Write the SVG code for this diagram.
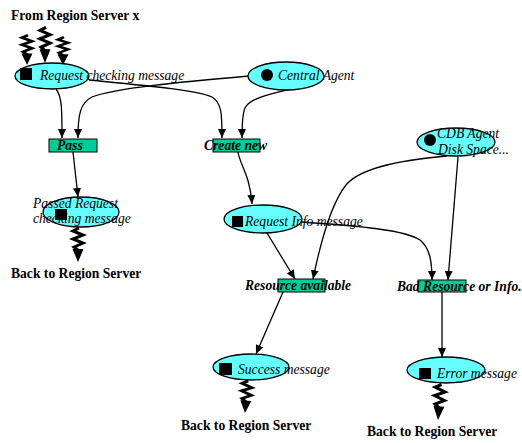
<svg xmlns="http://www.w3.org/2000/svg" xmlns:xlink="http://www.w3.org/1999/xlink" width="522" height="443" viewBox="0 0 522 443">
  <style>
    .msg { fill: #66ffff; stroke: #000; stroke-width: 1.3; }
    .box { fill: #00cc99; stroke: #000; stroke-width: 1; }
    .lbl { font-family: "Liberation Serif", "Times New Roman", serif; font-size: 13.6px; font-style: italic; fill: #000; }
    .blbl { font-family: "Liberation Serif", "Times New Roman", serif; font-size: 13.6px; font-style: italic; font-weight: bold; fill: #000; }
    .head { font-family: "Liberation Serif", "Times New Roman", serif; font-size: 13.6px; font-weight: bold; fill: #000; }
    .edge { fill: none; stroke: #000; stroke-width: 1.3; marker-end: url(#arrow); }
    .zz { fill: none; stroke: #000; stroke-width: 3; stroke-linejoin: miter; }
  </style>
  <defs>
    <marker id="arrow" markerUnits="userSpaceOnUse" markerWidth="9" markerHeight="8" refX="9" refY="4" orient="auto">
      <path d="M0,0 L9,4 L0,8 z" fill="#000"/>
    </marker>
    <!-- squiggly message arrow, tip at the origin, pointing down -->
    <g id="zigzag">
      <path class="zz" d="M1,-34 L-5,-31 L5,-27 L-5,-23 L5,-19 L-4,-15 L1,-11"/>
      <path d="M-5.5,-13 L5.5,-13 L0,0 z" fill="#000"/>
    </g>
  </defs>

  <text class="head" x="11" y="20">From Region Server x</text>

  <!-- incoming messages -->
  <g id="incoming">
    <use xlink:href="#zigzag" transform="translate(27,65) scale(1,0.88)"/>
    <use xlink:href="#zigzag" transform="translate(45,63) scale(1,1.05)"/>
    <use xlink:href="#zigzag" transform="translate(63,65) scale(1,0.82)"/>
  </g>

  <g id="connectors">
    <path class="edge" d="M56,89 C62,96 62,110 62,138"/>
    <path class="edge" d="M249,76 C180,82 115,88 92,97 C80,103 78,115 78,138"/>
    <path class="edge" d="M89,80 C150,86 195,90 212,97 C222,103 222,115 222,138"/>
    <path class="edge" d="M291,89 C270,94 250,98 245,108 C242,115 242,125 242,138"/>
    <path class="edge" d="M73,152 L78,197"/>
    <path class="edge" d="M238,152 C240,165 250,175 252,204"/>
    <path class="edge" d="M267,233 L295,279"/>
    <path class="edge" d="M447,156 C400,160 360,168 346,185 C330,205 320,245 313,279"/>
    <path class="edge" d="M302,222 C360,226 405,230 420,240 C430,248 432,262 432,280"/>
    <path class="edge" d="M458,157 L448,280"/>
    <path class="edge" d="M283,292 L256,354"/>
    <path class="edge" d="M442,292 L442,357"/>
  </g>

  <g id="request-checking">
    <ellipse class="msg" cx="52" cy="76" rx="37" ry="13"/>
    <rect x="20" y="68" width="12" height="12" fill="#000"/>
    <text class="lbl" x="40" y="80">Request checking message</text>
  </g>

  <g id="central-agent">
    <ellipse class="msg" cx="286" cy="76" rx="38" ry="14"/>
    <circle cx="267" cy="75" r="6" fill="#000"/>
    <text class="lbl" x="278" y="80">Central Agent</text>
  </g>

  <g id="pass">
    <rect class="box" x="49" y="139" width="48" height="13"/>
    <text class="blbl" x="57" y="150">Pass</text>
  </g>

  <g id="create-new">
    <rect class="box" x="213" y="139" width="47" height="13"/>
    <text class="blbl" x="204" y="150">Create new</text>
  </g>

  <g id="cdb-agent">
    <ellipse class="msg" cx="456" cy="142" rx="39" ry="14"/>
    <circle cx="430" cy="140" r="6" fill="#000"/>
    <text class="lbl" x="437" y="138">CDB Agent</text>
    <text class="lbl" x="438" y="154">Disk Space...</text>
  </g>

  <g id="passed-request">
    <ellipse class="msg" cx="81" cy="212" rx="38" ry="15"/>
    <rect x="55" y="209" width="12" height="11" fill="#000"/>
    <text class="lbl" x="33" y="208">Passed Request</text>
    <text class="lbl" x="33" y="223">checking message</text>
    <use xlink:href="#zigzag" transform="translate(78,262)"/>
    <text class="head" x="11" y="278">Back to Region Server</text>
  </g>

  <g id="request-info">
    <ellipse class="msg" cx="263" cy="219" rx="39" ry="14"/>
    <rect x="232" y="216" width="11" height="11" fill="#000"/>
    <text class="lbl" x="245" y="226">Request Info message</text>
  </g>

  <g id="resource-available">
    <rect class="box" x="278" y="279" width="47" height="13"/>
    <text class="blbl" x="245" y="290">Resource available</text>
  </g>

  <g id="bad-resource">
    <rect class="box" x="418" y="280" width="48" height="12"/>
    <text class="blbl" x="397" y="291">Bad Resource or Info.</text>
  </g>

  <g id="success">
    <ellipse class="msg" cx="251" cy="367" rx="38" ry="13"/>
    <rect x="219" y="363" width="13" height="12" fill="#000"/>
    <text class="lbl" x="238" y="374">Success message</text>
    <use xlink:href="#zigzag" transform="translate(245,413) rotate(4) scale(1,0.95)"/>
    <text class="head" x="181" y="430">Back to Region Server</text>
  </g>

  <g id="error">
    <ellipse class="msg" cx="446" cy="370" rx="39" ry="13"/>
    <rect x="419" y="368" width="12" height="11" fill="#000"/>
    <text class="lbl" x="437" y="378">Error message</text>
    <use xlink:href="#zigzag" transform="translate(438,420) rotate(4) scale(1,1.05)"/>
    <text class="head" x="367" y="436">Back to Region Server</text>
  </g>
</svg>
